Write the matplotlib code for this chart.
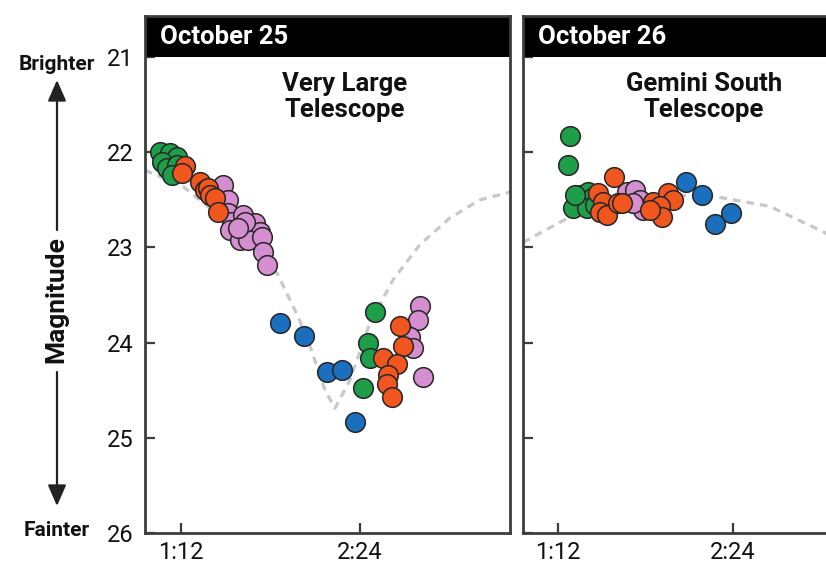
import matplotlib
matplotlib.use("Agg")
import matplotlib.pyplot as plt
from matplotlib.patches import Rectangle, FancyArrowPatch

plt.rcParams['font.family'] = ['Roboto', 'DejaVu Sans']

# ---------------- data (time in minutes after 0:00, magnitude) ----------------
# October 25 - Very Large Telescope
oct25_green_t = [63.6, 67.6, 70.4, 64.4, 66.4, 70.4, 68.4, 150.0, 147.2, 148.0, 145.2]
oct25_green_m = [22.00, 22.01, 22.05, 22.10, 22.17, 22.13, 22.24, 23.68, 24.00, 24.16, 24.48]
oct25_orange_t = [73.6, 72.4, 79.6, 81.7, 82.9, 83.7, 85.7, 86.9,
                  160.1, 161.3, 153.2, 158.9, 155.3, 154.9, 156.9]
oct25_orange_m = [22.15, 22.22, 22.31, 22.40, 22.38, 22.45, 22.48, 22.63,
                  23.83, 24.04, 24.16, 24.23, 24.34, 24.44, 24.57]
oct25_purple_t = [88.9, 90.9, 90.9, 92.5, 96.9, 101.8, 103.8, 91.7, 95.7, 98.9,
                  104.6, 105.0, 106.6, 97.7, 94.9,
                  168.1, 167.3, 164.1, 165.3, 169.3]
oct25_purple_m = [22.35, 22.50, 22.64, 22.73, 22.66, 22.74, 22.84, 22.82, 22.92, 22.92,
                  22.89, 23.05, 23.18, 22.73, 22.80,
                  23.62, 23.76, 23.94, 24.06, 24.36]
oct25_blue_t = [111.8, 121.5, 130.7, 136.8, 142.0]
oct25_blue_m = [23.79, 23.93, 24.31, 24.29, 24.83]
oct25_curve_t = [57.5, 72.8, 91.7, 110.6, 119.1, 123.9, 129.9, 133.9, 140.0, 148.0,
                 157.3, 168.1, 180.2, 192.3, 204.3]
oct25_curve_m = [22.19, 22.36, 22.76, 23.27, 23.73, 24.04, 24.50, 24.69, 24.39, 23.79,
                 23.34, 22.97, 22.69, 22.50, 22.42]

# October 26 - Gemini South Telescope
oct26_green_t = [76.9, 76.1, 78.2, 81.1, 84.3, 86.0, 83.9, 79.0, 87.2]
oct26_green_m = [21.83, 22.13, 22.59, 22.45, 22.42, 22.48, 22.59, 22.45, 22.55]
oct26_orange_t = [95.0, 88.5, 90.5, 89.3, 92.2, 96.7, 98.3, 111.1, 117.3, 119.3, 114.0, 114.8, 109.9]
oct26_orange_m = [22.26, 22.43, 22.52, 22.63, 22.66, 22.53, 22.53, 22.52, 22.43, 22.50, 22.57, 22.68, 22.61]
oct26_purple_t = [100.4, 103.7, 105.7, 107.0, 102.9]
oct26_purple_m = [22.42, 22.40, 22.50, 22.61, 22.53]
oct26_blue_t = [124.7, 131.2, 136.6, 143.2]
oct26_blue_m = [22.31, 22.45, 22.75, 22.64]
oct26_curve_t = [57.6, 61.7, 76.9, 97.5, 126.3, 137.4, 159.2, 179.8, 196.2, 207.8]
oct26_curve_m = [22.95, 22.89, 22.68, 22.50, 22.45, 22.47, 22.57, 22.82, 23.03, 23.22]

xtick_vals = [72, 144]
xtick_labels = ['1:12', '2:24']
ytick_vals = [21, 22, 23, 24, 25, 26]

# ---------------- style ----------------
GREEN = '#1f9e49'
ORANGE = '#f1561f'
PURPLE = '#d58fd0'
BLUE = '#1a6fbf'
FRAME = '#3d3d3d'
W, H = 826, 567

fig = plt.figure(figsize=(W / 100, H / 100), dpi=100)
fig.patch.set_facecolor('white')


def axes_px(x0, x1, ytop, ybot):
    return fig.add_axes([x0 / W, (H - ybot) / H, (x1 - x0) / W, (ybot - ytop) / H])


header_frac = 41 / 517
ytop_val = 21 - 0.43

panels = [
    (axes_px(145, 510, 16, 533), (57.5, 204.3), 'October 25', 'Very Large\nTelescope', 0.548,
     [(oct25_purple_t, oct25_purple_m, PURPLE), (oct25_green_t, oct25_green_m, GREEN),
      (oct25_orange_t, oct25_orange_m, ORANGE), (oct25_blue_t, oct25_blue_m, BLUE)],
     (oct25_curve_t, oct25_curve_m), True),
    (axes_px(523, 888, 16, 533), (57.6, 207.8), 'October 26', 'Gemini South\nTelescope', 0.495,
     [(oct26_purple_t, oct26_purple_m, PURPLE), (oct26_green_t, oct26_green_m, GREEN),
      (oct26_orange_t, oct26_orange_m, ORANGE), (oct26_blue_t, oct26_blue_m, BLUE)],
     (oct26_curve_t, oct26_curve_m), False),
]

for ax, xlim, date, scope, scope_x, groups, curve, show_ylabels in panels:
    ax.set_xlim(*xlim)
    ax.set_ylim(26, ytop_val)
    ax.plot(curve[0], curve[1], color='#c8c8c8', lw=2.3, dashes=(2.4, 1.9),
            solid_capstyle='butt', zorder=1)
    for t, m, c in groups:
        ax.scatter(t, m, s=200, c=c, edgecolors='#262626', linewidths=1.1, zorder=3)
    ax.add_patch(Rectangle((0, 1 - header_frac), 1, header_frac, transform=ax.transAxes,
                           facecolor='black', edgecolor='none', zorder=4, clip_on=False))
    ax.text(0.042, 1 - header_frac / 2, date, transform=ax.transAxes, color='white',
            fontsize=18.5, fontweight='bold', ha='left', va='center', zorder=5)
    ax.text(scope_x, 0.843, scope, transform=ax.transAxes, color='#111111',
            fontsize=18.5, fontweight='bold', ha='center', va='center', linespacing=1.12,
            zorder=5)
    for s in ax.spines.values():
        s.set_color(FRAME)
        s.set_linewidth(2.0)
        s.set_zorder(6)
    ax.set_xticks(xtick_vals)
    ax.set_xticklabels(xtick_labels)
    ax.set_yticks(ytick_vals)
    if not show_ylabels:
        ax.set_yticklabels([])
    ax.tick_params(axis='both', direction='in', length=7, width=1.6, color=FRAME,
                   labelsize=17, labelcolor='#111111', pad=6)
    ax.tick_params(axis='y', pad=8)

# y axis annotation
fig.text(57 / W, 1 - 64 / H, 'Brighter', ha='center', va='center', fontsize=15,
         fontweight='bold', color='#111111')
fig.text(57 / W, 1 - 530 / H, 'Fainter', ha='center', va='center', fontsize=15,
         fontweight='bold', color='#111111')
fig.text(56 / W, 1 - 300 / H, 'Magnitude', ha='center', va='center', rotation=90,
         fontsize=19, fontweight='bold', color='#111111')
arrow_kw = dict(arrowstyle='-|>,head_length=0.8,head_width=0.35', color='#222222', lw=1.6,
                shrinkA=0, shrinkB=0, mutation_scale=16)
fig.add_artist(FancyArrowPatch((57 / W, 1 - 230 / H), (57 / W, 1 - 80 / H),
                               transform=fig.transFigure, **arrow_kw))
fig.add_artist(FancyArrowPatch((57 / W, 1 - 372 / H), (57 / W, 1 - 506 / H),
                               transform=fig.transFigure, **arrow_kw))

fig.savefig('out.png', dpi=100, facecolor='white')
